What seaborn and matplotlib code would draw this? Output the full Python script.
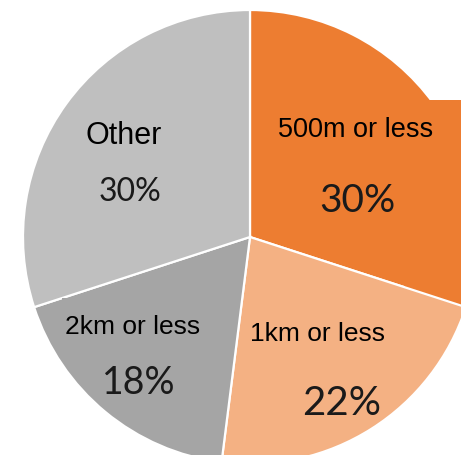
import matplotlib
matplotlib.use("Agg")
import matplotlib.pyplot as plt
from matplotlib.patches import Rectangle
import seaborn as sns

# Share of trips by distance to the station
categories = ["500m or less", "1km or less", "2km or less", "Other"]
shares = [30, 22, 18, 30]
colors = ["#ED7D31", "#F4B183", "#A5A5A5", "#BFBFBF"]

sns.set_theme(style="white")
plt.rcParams["font.family"] = ["Liberation Sans", "DejaVu Sans"]

W, H = 461, 456
fig = plt.figure(figsize=(W / 100, H / 100), dpi=100)
ax = fig.add_axes([0, 0, 1, 1])


def Y(py):
    """Convert a top-down pixel row into the axes' bottom-up coordinate."""
    return H - py


cx, cy, r = 250, 238, 227

wedges, _ = ax.pie(shares, colors=colors, startangle=90, counterclock=False,
                   center=(cx, Y(cy)), radius=r,
                   wedgeprops=dict(edgecolor="white", linewidth=1.6),
                   frame=True)
wedges[0].set_zorder(1)
for w in wedges[1:]:
    w.set_zorder(2)

# Label box of the first category, reaching past the rim
ax.add_patch(Rectangle((405, Y(320)), 80, 219, facecolor=colors[0],
                       edgecolor="none", zorder=1.5))

# Label box of the third category
ax.add_patch(Rectangle((62, Y(340)), 143, 41, facecolor=colors[2],
                       edgecolor="none", zorder=2.5))

# name position, name size, value position, value size
layout = [
    ((356, 130), 19.5, (357, 201), 28),
    ((318, 334), 19.0, (342, 404), 29),
    ((133, 327), 19.0, (139, 383), 27),
    ((124, 136), 22.0, (130, 192), 23),
]

for cat, val, (npos, nsize, vpos, vsize) in zip(categories, shares, layout):
    ax.text(npos[0], Y(npos[1]), cat, ha="center", va="center",
            fontsize=nsize, color="black", zorder=3)
    ax.text(vpos[0], Y(vpos[1]), f"{val}%", ha="center", va="center",
            fontsize=vsize, color="#1a1a1a", family=["Lato", "DejaVu Sans"],
            zorder=3)

ax.set_xlim(0, W)
ax.set_ylim(0, H)
ax.set_aspect("equal")
ax.axis("off")

fig.savefig("out.png", dpi=100, facecolor="white")
